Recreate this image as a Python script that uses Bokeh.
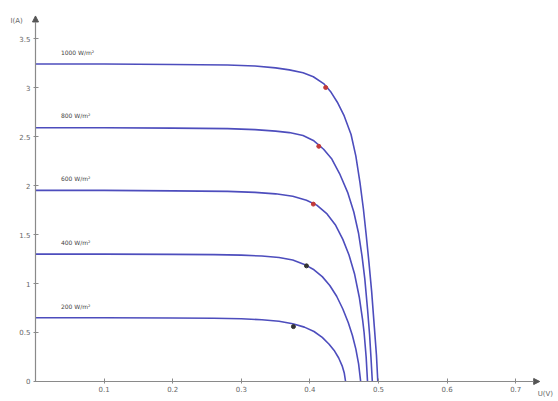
from bokeh.plotting import figure
from bokeh.models import LinearAxis, FixedTicker, Arrow, NormalHead, Label, ColumnDataSource, Range1d
from bokeh.embed import file_html
from bokeh.resources import INLINE
from bokeh.core.properties import value

# ---- data ----
irradiance_labels = ["1000 W/m²", "800 W/m²", "600 W/m²", "400 W/m²", "200 W/m²"]
isc = [3.24, 2.59, 1.95, 1.30, 0.65]

v_1000 = [0.0, 0.10, 0.20, 0.28, 0.32, 0.35, 0.37, 0.39, 0.405, 0.42, 0.43, 0.44, 0.45,
          0.46, 0.467, 0.473, 0.478, 0.482, 0.486, 0.490, 0.494, 0.497, 0.499]
i_1000 = [3.24, 3.24, 3.235, 3.23, 3.22, 3.20, 3.18, 3.15, 3.11, 3.04, 2.96, 2.85, 2.71,
          2.52, 2.30, 2.03, 1.76, 1.50, 1.22, 0.92, 0.55, 0.27, 0.0]

v_800 = [0.0, 0.10, 0.20, 0.28, 0.32, 0.35, 0.37, 0.39, 0.405, 0.42, 0.432, 0.444, 0.455,
         0.464, 0.471, 0.476, 0.480, 0.484, 0.487, 0.489, 0.491]
i_800 = [2.59, 2.59, 2.585, 2.58, 2.57, 2.555, 2.54, 2.51, 2.46, 2.37, 2.27, 2.11, 1.93,
         1.73, 1.51, 1.28, 1.05, 0.74, 0.48, 0.25, 0.0]

v_600 = [0.0, 0.10, 0.20, 0.28, 0.32, 0.35, 0.375, 0.395, 0.41, 0.425, 0.437, 0.448, 0.457,
         0.465, 0.472, 0.477, 0.479, 0.482, 0.484]
i_600 = [1.95, 1.95, 1.945, 1.94, 1.93, 1.915, 1.89, 1.85, 1.80, 1.71, 1.60, 1.45, 1.29,
         1.10, 0.86, 0.62, 0.50, 0.25, 0.0]

v_400 = [0.0, 0.10, 0.20, 0.26, 0.30, 0.33, 0.355, 0.375, 0.392, 0.406, 0.418, 0.429, 0.439,
         0.448, 0.456, 0.462, 0.467, 0.471, 0.474]
i_400 = [1.30, 1.30, 1.297, 1.295, 1.29, 1.28, 1.265, 1.24, 1.195, 1.14, 1.07, 0.98, 0.87,
         0.74, 0.60, 0.47, 0.33, 0.18, 0.0]

v_200 = [0.0, 0.10, 0.20, 0.26, 0.30, 0.33, 0.355, 0.375, 0.392, 0.406, 0.418, 0.428, 0.436,
         0.442, 0.447, 0.450, 0.452]
i_200 = [0.65, 0.65, 0.648, 0.645, 0.64, 0.63, 0.615, 0.59, 0.555, 0.51, 0.45, 0.38, 0.31,
         0.24, 0.16, 0.09, 0.0]

mpp_v = [0.423, 0.413, 0.405, 0.395, 0.376]
mpp_i = [3.00, 2.40, 1.81, 1.18, 0.56]
mpp_colors = ["#c23a3a", "#c23a3a", "#c23a3a", "#333333", "#333333"]

y_ticks = [0, 0.5, 1, 1.5, 2, 2.5, 3, 3.5]
x_ticks = [0.1, 0.2, 0.3, 0.4, 0.5, 0.6, 0.7]
x_label = "U(V)"
y_label = "I(A)"

curves_v = [v_1000, v_800, v_600, v_400, v_200]
curves_i = [i_1000, i_800, i_600, i_400, i_200]

# ---- figure ----
p = figure(width=558, height=401, output_backend="svg", toolbar_location=None,
           x_range=Range1d(-0.05102, 0.76239), y_range=Range1d(-0.2041, 3.8878),
           x_axis_location=None, y_axis_location=None, min_border=0)
p.xgrid.visible = False
p.ygrid.visible = False
p.outline_line_color = None
p.background_fill_color = "white"

axis_color = "#8a8a8a"
font = "DejaVu Sans"

def make_axis(ticks):
    return LinearAxis(fixed_location=0, ticker=FixedTicker(ticks=ticks),
                      axis_line_color=None, major_tick_line_color=axis_color,
                      major_tick_in=3, major_tick_out=2, minor_tick_line_color=None,
                      major_label_text_font_size="7px", major_label_text_color="#666666",
                      major_label_text_font=font, major_label_standoff=3)

p.add_layout(make_axis(x_ticks), "below")
p.add_layout(make_axis(y_ticks), "left")

p.add_layout(Arrow(end=NormalHead(size=6, fill_color="#555555", line_color="#555555"),
                   x_start=0, y_start=0, x_end=0.735, y_end=0,
                   line_color=axis_color, line_width=1.2))
p.add_layout(Arrow(end=NormalHead(size=6, fill_color="#555555", line_color="#555555"),
                   x_start=0, y_start=0, x_end=0, y_end=3.73,
                   line_color=axis_color, line_width=1.2))

p.add_layout(Label(x=0.732, y=0, text=x_label, text_font_size="7px", text_color="#666666",
                   text_font=font, y_offset=-17, text_baseline="bottom"))
p.add_layout(Label(x=0, y=3.633, text=y_label, text_font_size="7px", text_color="#666666",
                   text_font=font, x_offset=-25, text_baseline="bottom"))

for vs, iv, lab, i0 in zip(curves_v, curves_i, irradiance_labels, isc):
    p.line(vs, iv, line_color="#4d4dbd", line_width=1.6)
    p.text([0.037], [i0 + 0.12], text=[lab], text_font=value(font), text_font_size="6px",
           text_color="#444444", text_baseline="middle")

src = ColumnDataSource(dict(v=mpp_v, i=mpp_i, c=mpp_colors))
p.scatter("v", "i", source=src, size=4, color="c")

open("out.html", "w").write(file_html(p, INLINE))
